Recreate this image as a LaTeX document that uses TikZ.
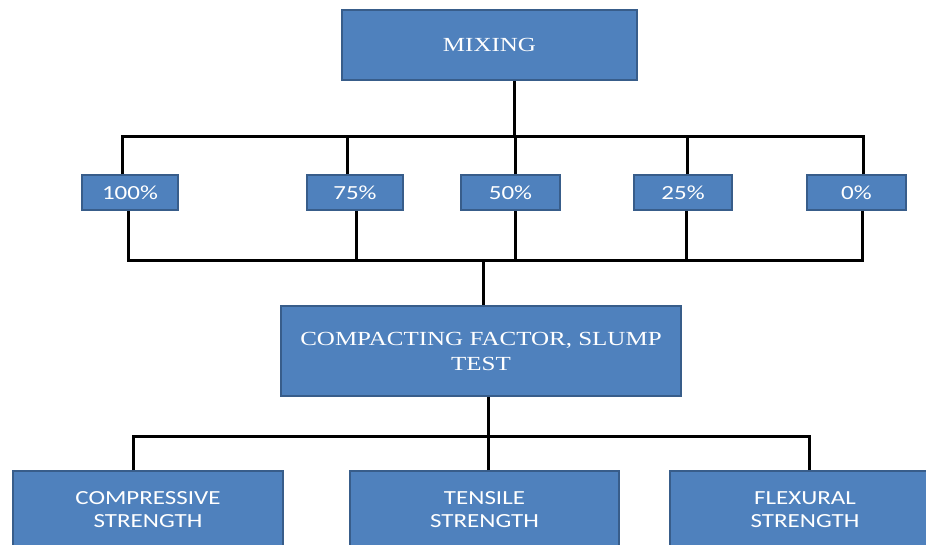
\documentclass[tikz,border=0pt]{standalone}
\usepackage{fontspec}
\setmainfont{Liberation Serif}
\newfontfamily\boxsans[FakeStretch=1.25]{Carlito}
\newfontfamily\boxserif[FakeStretch=1.25]{Liberation Serif}
\definecolor{boxfill}{HTML}{4F81BD}
\definecolor{boxline}{HTML}{385D8A}
\tikzset{block/.style = {draw=boxline, fill=boxfill, line width=1.5pt, rectangle, text=white, align=center, inner sep=0pt},
    serifblock/.style = {block, font=\boxserif\fontsize{20}{25}\selectfont},
    sansblock/.style = {block, font=\boxsans\fontsize{20}{23.5}\selectfont},
    wire/.style = {line width=3pt, black}}

\begin{document}
\begin{tikzpicture}[x=1pt,y=-1pt]
    \useasboundingbox(0,0)rectangle(926,544);
    \clip(0,0)rectangle(926,544);
    \node[serifblock, minimum width=295, minimum height=70](mixing)at(489.5,45){MIXING};
    \node[sansblock, minimum width=96, minimum height=35](p100)at(130,192.5){100\%};
    \node[sansblock, minimum width=96, minimum height=35](p75)at(355,192.5){75\%};
    \node[sansblock, minimum width=99, minimum height=35](p50)at(510.5,192.5){50\%};
    \node[sansblock, minimum width=98, minimum height=35](p25)at(683,192.5){25\%};
    \node[sansblock, minimum width=99, minimum height=35](p0)at(856.5,192.5){0\%};
    \node[serifblock, minimum width=400, minimum height=90](compact)at(481,351){COMPACTING FACTOR, SLUMP\\TEST};
    \node[sansblock, minimum width=270, minimum height=77](compr)at(148,509.5){COMPRESSIVE\\STRENGTH};
    \node[sansblock, minimum width=269, minimum height=77](tensile)at(484.5,509.5){TENSILE\\STRENGTH};
    \node[sansblock, minimum width=270, minimum height=77](flexural)at(805,509.5){FLEXURAL\\STRENGTH};
    \coordinate(top)at(514,136);
    \coordinate(bot)at(483,260);
    \coordinate(split)at(488,436);
    \draw[wire](mixing.south -| top)--(top);
    \foreach \n/\x in {p100/122, p75/347, p50/515, p25/687, p0/863}
        \draw[wire](\n.north -| \x,0)|-(top);
    \foreach \n/\x in {p100/128, p75/356, p50/515, p25/686, p0/862}
        \draw[wire](\n.south -| \x,0)|-(bot);
    \draw[wire](bot)--(compact.north -| bot);
    \draw[wire](compact.south -| split)--(split);
    \foreach \n/\x in {compr/133, tensile/488, flexural/809}
        \draw[wire](\n.north -| \x,0)|-(split);
\end{tikzpicture}
\end{document}
